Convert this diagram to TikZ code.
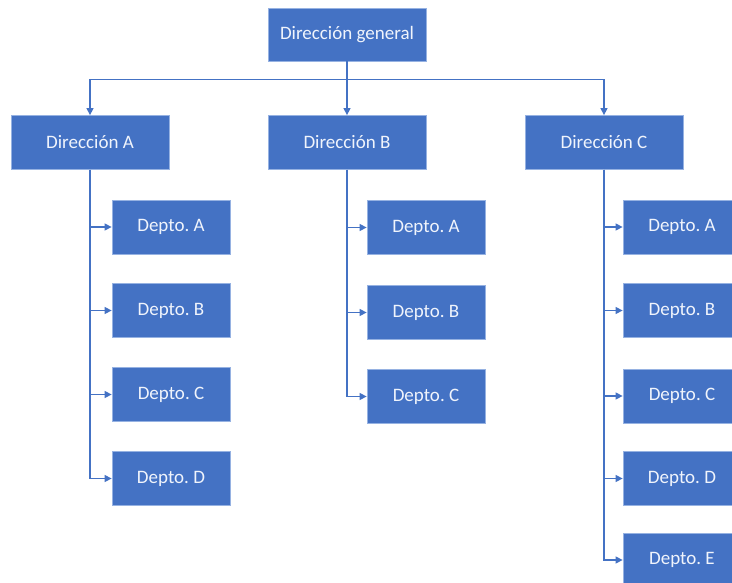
\documentclass[tikz,border=0pt]{standalone}
\usepackage{fontspec}
\setmainfont{Carlito}
\usetikzlibrary{arrows.meta}

\definecolor{orgblue}{RGB}{68,114,196}
\definecolor{orgedge}{RGB}{150,178,226}
\definecolor{orgtext}{RGB}{240,244,252}

\tikzset{
  unitbox/.style={rectangle, fill=orgblue, draw=orgedge, line width=0.8pt,
    text=orgtext, inner sep=0pt, font=\fontsize{19}{22}\selectfont},
  headbox/.style={unitbox, minimum width=158pt, minimum height=54pt},
  deptbox/.style={unitbox, minimum width=118pt, minimum height=54pt},
  link/.style={draw=orgblue, line width=1.4pt,
    -{Triangle[length=7pt,width=7pt]}}
}

\begin{document}
\begin{tikzpicture}[x=1pt, y=-1pt]
  \useasboundingbox (0,0) rectangle (732,583);
  \clip (0,0) rectangle (732,583);

  % general management and the three directions
  \node[headbox, minimum height=53pt] (gen) at (347,34.5) {Dirección general};
  \node[headbox] (dirA) at (90,142.5) {Dirección A};
  \node[headbox] (dirB) at (347,142.5) {Dirección B};
  \node[headbox] (dirC) at (604,142.5) {Dirección C};

  % departments of direction A
  \node[deptbox] (a1) at (171,227) {Depto.\ A};
  \node[deptbox] (a2) at (171,310.5) {Depto.\ B};
  \node[deptbox] (a3) at (171,394.5) {Depto.\ C};
  \node[deptbox] (a4) at (171,478.5) {Depto.\ D};

  % departments of direction B
  \node[deptbox] (b1) at (426,227.5) {Depto.\ A};
  \node[deptbox] (b2) at (426,312.5) {Depto.\ B};
  \node[deptbox] (b3) at (426,396.5) {Depto.\ C};

  % departments of direction C
  \node[deptbox] (c1) at (682,227) {Depto.\ A};
  \node[deptbox] (c2) at (682,310.5) {Depto.\ B};
  \node[deptbox] (c3) at (682,396) {Depto.\ C};
  \node[deptbox] (c4) at (682,478.5) {Depto.\ D};
  \node[deptbox] (c5) at (682,560) {Depto.\ E};

  % general management to directions
  \draw[link] (gen.south) -- (dirB.north);
  \draw[link] (gen.south) -- ++(0,18) -| (dirA.north);
  \draw[link] (gen.south) -- ++(0,18) -| (dirC.north);

  % directions to departments
  \foreach \d in {a1,a2,a3,a4} \draw[link] (dirA.south) |- (\d.west);
  \foreach \d in {b1,b2,b3} \draw[link] (dirB.south) |- (\d.west);
  \foreach \d in {c1,c2,c3,c4,c5} \draw[link] (dirC.south) |- (\d.west);
\end{tikzpicture}
\end{document}
